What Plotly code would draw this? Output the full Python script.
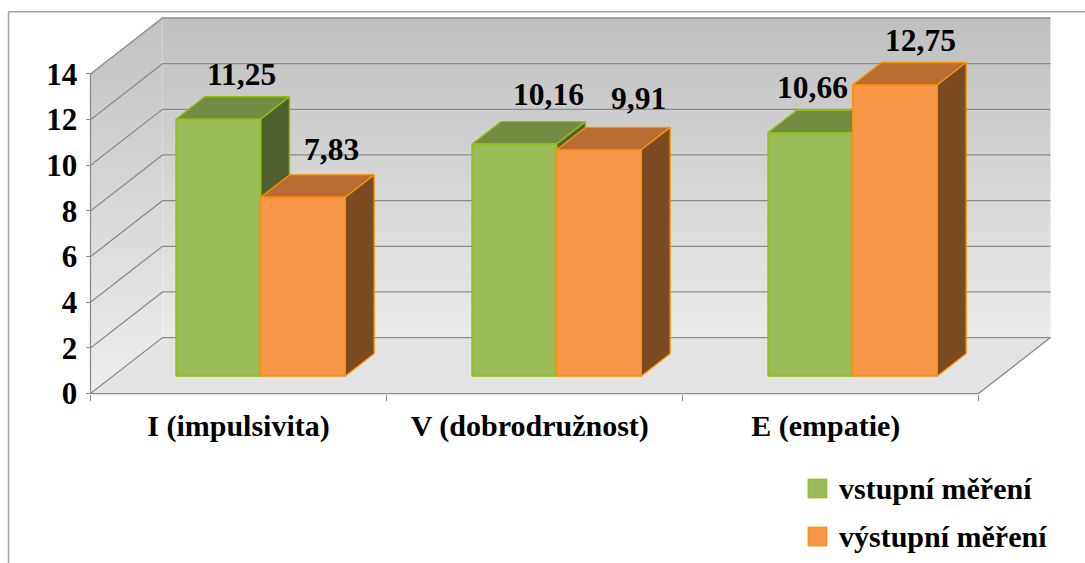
import plotly.graph_objects as go

# Chart content
categories = ["I (impulsivita)", "V (dobrodružnost)", "E (empatie)"]
series_names = ["vstupní měření", "výstupní měření"]
entry_values = [11.25, 10.16, 10.66]
exit_values = [7.83, 9.91, 12.75]
y_ticks = [0, 2, 4, 6, 8, 10, 12, 14]

# Canvas and oblique-projection set-up
W, H = 1085, 563
X0_PX, Y0_PX = 90.5, 393.6      # origin of the front plane
CAT_PX, VAL_PX = 296.0, 22.83   # pixels per category / per value unit
DEPTH_X = 72.0 / CAT_PX         # shift of the back wall, in category units
DEPTH_Y = 56.0 / VAL_PX         # shift of the back wall, in value units
BAR_D0, BAR_D1 = 0.314, 0.714   # bar front and back, as a fraction of depth
GAP = 0.2125                    # gap beside each bar cluster, in category units
BAR_W = 0.286
FONT = "Liberation Serif"
EDGE = "#8c8c8c"

STYLES = [
    dict(front="#9bbb59", top="#748b44", side="#4f5f2d", line="#8fc00f"),
    dict(front="#f79646", top="#b96d33", side="#7c4a20", line="#f59306"),
]
# Pixel nudges for the value labels, placed over each bar's rear top edge
LABEL_SHIFTS = [
    [(-6, 22), (5, 27), (-27, 23)],
    [(0, 25), (11, 29), (-3, 22)],
]
# Small offsets of the category captions from the category centres
CAPTION_SHIFTS = [0.0, -0.016, -0.016]


def proj(c, v, d):
    """Project (category position, value, depth fraction) onto the 2D axes."""
    return c + d * DEPTH_X, v + d * DEPTH_Y


def polygon(points, fill, line=None, width=0, gradient=None):
    xs, ys = zip(*[proj(*p) for p in points + points[:1]])
    kw = dict(fillgradient=gradient) if gradient else dict(fillcolor=fill)
    return go.Scatter(
        x=xs, y=ys, mode="lines", fill="toself",
        line=dict(color=line or "rgba(0,0,0,0)", width=width),
        hoverinfo="skip", showlegend=False, **kw,
    )


def vertical_gradient(top, bottom):
    return dict(type="vertical", colorscale=[[0, bottom], [1, top]])


def lines(segments, color=EDGE, width=1.3):
    xs, ys = [], []
    for seg in segments:
        for p in seg:
            x, y = proj(*p)
            xs.append(x)
            ys.append(y)
        xs.append(None)
        ys.append(None)
    return go.Scatter(x=xs, y=ys, mode="lines", line=dict(color=color, width=width),
                      hoverinfo="skip", showlegend=False)


fig = go.Figure()
n = len(categories)
top_val = y_ticks[-1]

# Side wall, back wall and floor
fig.add_trace(polygon([(0, 0, 0), (0, top_val, 0), (0, top_val, 1), (0, 0, 1)], None,
                      gradient=vertical_gradient("#c2c2c2", "#eeeeee")))
fig.add_trace(polygon([(0, 0, 1), (0, top_val, 1), (n, top_val, 1), (n, 0, 1)], None,
                      gradient=vertical_gradient("#bfbfbf", "#ebebeb")))
fig.add_trace(polygon([(0, 0, 0), (n, 0, 0), (n, 0, 1), (0, 0, 1)], "#e4e4e4"))

# Gridlines running along the side wall and the back wall
fig.add_trace(lines([[(0, v, 0), (0, v, 1), (n, v, 1)] for v in y_ticks]))
fig.add_trace(lines([
    [(0, 0, 0), (0, top_val, 0)],
    [(0, 0, 0), (n, 0, 0), (n, 0, 1)],
]))

# Cuboids, painted back to front inside every category
for i in range(n):
    for s, values in enumerate([entry_values, exit_values]):
        st = STYLES[s]
        v = values[i]
        a = i + GAP + s * BAR_W
        b = a + BAR_W
        fig.add_trace(polygon([(a, v, BAR_D0), (b, v, BAR_D0), (b, v, BAR_D1), (a, v, BAR_D1)],
                              st["top"], st["line"], 1.4))
        fig.add_trace(polygon([(b, 0, BAR_D0), (b, v, BAR_D0), (b, v, BAR_D1), (b, 0, BAR_D1)],
                              st["side"], st["line"], 1.4))
        fig.add_trace(polygon([(a, 0, BAR_D0), (a, v, BAR_D0), (b, v, BAR_D0), (b, 0, BAR_D0)],
                              st["front"], st["line"], 1.4))

# Value labels
annotations = []
for s, values in enumerate([entry_values, exit_values]):
    for i, v in enumerate(values):
        x, y = proj(i + GAP + (s + 0.5) * BAR_W, v, BAR_D1)
        dx, dy = LABEL_SHIFTS[s][i]
        annotations.append(dict(
            x=x, y=y, xref="x", yref="y", xshift=dx, yshift=dy, showarrow=False,
            text=f"{v:.2f}".replace(".", ","),
            font=dict(family=FONT, size=31.5, color="#000000", weight="bold"),
        ))

# Legend keys and labels
shapes = []
for row, (name, st) in enumerate(zip(series_names, STYLES)):
    top_px = 479 + row * 48
    shapes.append(dict(type="rect", xref="paper", yref="paper",
                       x0=808 / W, x1=827 / W, y0=1 - (top_px + 19) / H, y1=1 - top_px / H,
                       fillcolor=st["front"], line=dict(color=st["line"], width=0.8)))
    annotations.append(dict(
        x=837 / W, y=1 - (top_px + 9) / H, xref="paper", yref="paper",
        xanchor="left", yanchor="middle", showarrow=False, text=name,
        font=dict(family=FONT, size=30, color="#000000", weight="bold"),
    ))

# Outer frame, open on the right and at the bottom
frame = dict(color="#a0a0a0", width=1.5)
shapes.append(dict(type="line", xref="paper", yref="paper", x0=8.5 / W, x1=1,
                   y0=1 - 11.8 / H, y1=1 - 11.8 / H, line=frame))
shapes.append(dict(type="line", xref="paper", yref="paper", x0=8.5 / W, x1=8.5 / W,
                   y0=0, y1=1 - 11.8 / H, line=frame))

fig.update_layout(
    width=W, height=H, margin=dict(l=0, r=0, t=0, b=0), autosize=False,
    paper_bgcolor="#ffffff", plot_bgcolor="#ffffff", showlegend=False,
    shapes=shapes, annotations=annotations,
    xaxis=dict(
        domain=[0, 1], range=[-X0_PX / CAT_PX, (W - X0_PX) / CAT_PX],
        anchor="free", position=1 - Y0_PX / H, fixedrange=True,
        showgrid=False, zeroline=False, showline=False,
        tickmode="array", tickvals=[i + 0.5 + CAPTION_SHIFTS[i] for i in range(n)],
        ticktext=categories, ticks="", ticklabelstandoff=11,
        tickfont=dict(family=FONT, size=30, color="#000000", weight="bold"),
        minor=dict(tickmode="array", tickvals=list(range(n + 1)), ticks="outside",
                   ticklen=6, tickcolor=EDGE, tickwidth=1.3, showgrid=False),
    ),
    yaxis=dict(
        domain=[0, 1], range=[(Y0_PX - H) / VAL_PX, Y0_PX / VAL_PX],
        anchor="free", position=X0_PX / W, fixedrange=True,
        showgrid=False, zeroline=False, showline=False,
        tickmode="array", tickvals=y_ticks, ticks="outside",
        ticklen=5, tickcolor=EDGE, tickwidth=1.3, ticklabelstandoff=2,
        tickfont=dict(family=FONT, size=31, color="#000000", weight="bold"),
    ),
)

fig.write_html("out.html", config=dict(displayModeBar=False))
